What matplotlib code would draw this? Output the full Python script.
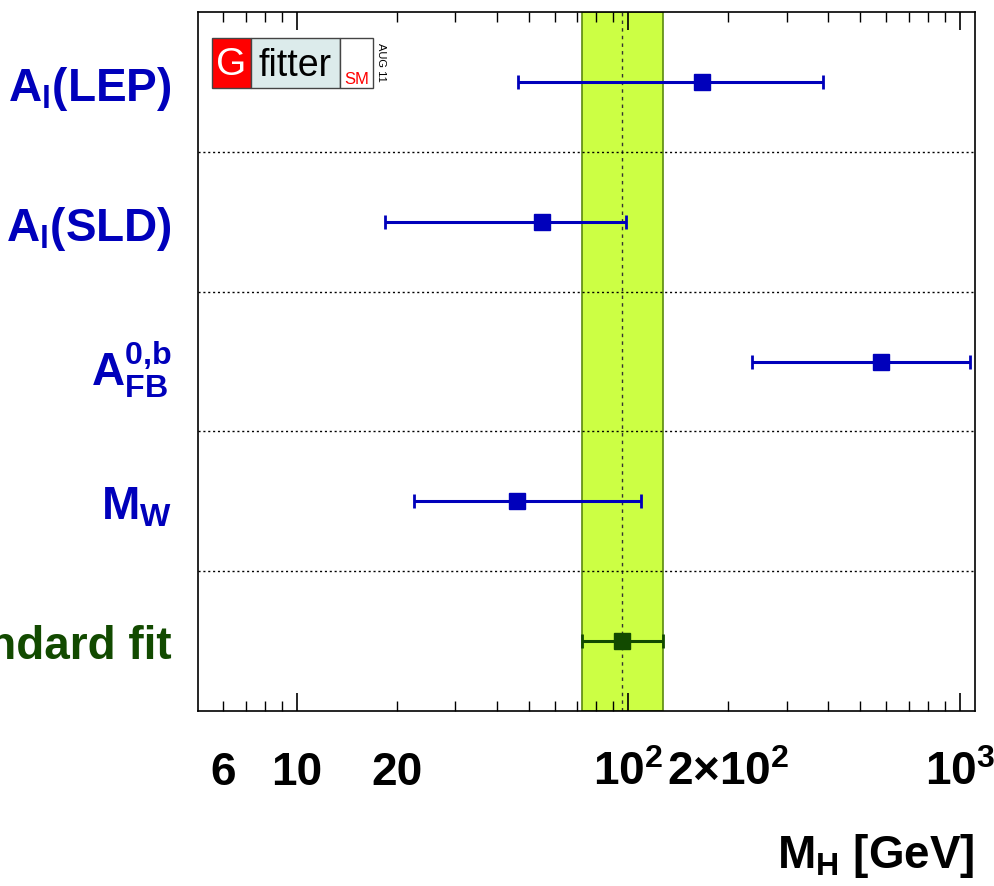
import numpy as np
import matplotlib
matplotlib.use("Agg")
import matplotlib.pyplot as plt
from matplotlib.ticker import FixedLocator, FixedFormatter

plt.rcParams['font.family'] = ['Liberation Sans', 'DejaVu Sans']
plt.rcParams['mathtext.fontset'] = 'custom'
plt.rcParams['mathtext.rm'] = 'Liberation Sans:bold'
plt.rcParams['mathtext.bf'] = 'Liberation Sans:bold'
plt.rcParams['mathtext.it'] = 'Liberation Sans:bold'
plt.rcParams['mathtext.default'] = 'rm'

# observables, top to bottom
labels = [r'$A_l$(LEP)', r'$A_l$(SLD)', r'$A^{0{,}b}_{FB}$', r'$M_W$', 'Standard fit']
mh_central = [167, 55, 577, 46, 95.5]
mh_low = [46.4, 18.4, 236, 22.6, 72.6]
mh_high = [387, 98.6, 1072, 109, 126.7]
label_colors = ['#0000bb', '#0000bb', '#0000bb', '#0000bb', '#124a00']
marker_colors = ['#0000bb', '#0000bb', '#0000bb', '#0000bb', '#124a00']

# band of the standard fit
band_low = 72.6
band_high = 126.7
band_center = 95.5

major_ticks = [10, 100, 1000]
tick_text = {6: '6', 10: '10', 20: '20', 100: r'$10^{2}$', 200: r'2$\times$$10^{2}$', 1000: r'$10^{3}$'}

fig = plt.figure(figsize=(9.94, 8.87), dpi=100)
ax = fig.add_axes([198/994, 1-712/887, 777/994, 699/887])
ax.set_xscale('log')
ax.set_xlim(5.03, 1110)
ax.set_ylim(0, 5)

ax.axvspan(band_low, band_high, facecolor='#ccff44', edgecolor='#5a8a10', lw=1.2, zorder=1)
ax.axvline(band_center, color='#333333', lw=1.0, ls=(0, (2.5, 3)), zorder=2)

n = len(labels)
ypos = [n - 0.5 - i for i in range(n)]
for i in range(n):
    xerr = [[mh_central[i] - mh_low[i]], [mh_high[i] - mh_central[i]]]
    ax.errorbar([mh_central[i]], [ypos[i]], xerr=xerr, fmt='s', color=marker_colors[i],
                ms=11, lw=2.2, capsize=5, capthick=2.0, zorder=4)

for k in range(1, n):
    ax.axhline(k, color='black', lw=1.0, ls=(0, (1.5, 2)), zorder=2)

# ticks
minor = [m * d for d in [1, 10, 100] for m in range(2, 10) if 5 <= m * d <= 1110]
ax.xaxis.set_major_locator(FixedLocator(major_ticks))
ax.xaxis.set_minor_locator(FixedLocator(minor))
ax.xaxis.set_major_formatter(FixedFormatter([tick_text[t] for t in major_ticks]))
ax.xaxis.set_minor_formatter(FixedFormatter([tick_text.get(t, '') for t in minor]))
ax.tick_params(axis='x', which='both', direction='in', top=True, labelsize=33, pad=28)
ax.tick_params(axis='x', which='major', length=13, width=1.2)
ax.tick_params(axis='x', which='minor', length=7, width=1.0)
for lab in ax.get_xticklabels(which='both'):
    lab.set_fontweight('bold')

ax.set_yticks(ypos)
ax.set_yticklabels(labels, fontsize=33, fontweight='bold')
for lab, c in zip(ax.get_yticklabels(), label_colors):
    lab.set_color(c)
ax.tick_params(axis='y', length=0, pad=19)

for sp in ax.spines.values():
    sp.set_linewidth(1.2)

fig.text(975/994, 1-868/887, r'$M_H$ [GeV]', ha='right', va='baseline', fontsize=33, fontweight='bold')

# Gfitter logo
W, H = 777.0, 699.0
def afx(px):
    return (px - 198) / W
def afy(py):
    return 1 - (py - 13) / H
ax.add_patch(plt.Rectangle((afx(212), afy(89)), afx(251) - afx(212), afy(39) - afy(89),
                           transform=ax.transAxes, facecolor='#ff0000', edgecolor='#444444', lw=1, zorder=5))
ax.add_patch(plt.Rectangle((afx(251), afy(89)), afx(340) - afx(251), afy(39) - afy(89),
                           transform=ax.transAxes, facecolor='#dcebeb', edgecolor='#444444', lw=1, zorder=5))
ax.add_patch(plt.Rectangle((afx(340), afy(89)), afx(373) - afx(340), afy(39) - afy(89),
                           transform=ax.transAxes, facecolor='white', edgecolor='#444444', lw=1, zorder=5))
ax.text(afx(231.5), afy(65), 'G', transform=ax.transAxes, color='white', fontsize=28,
        ha='center', va='center', zorder=6)
ax.text(afx(295), afy(66), 'fitter', transform=ax.transAxes, color='black', fontsize=27,
        ha='center', va='center', zorder=6)
ax.text(afx(357), afy(84), 'SM', transform=ax.transAxes, color='#ff0000', fontsize=12,
        ha='center', va='baseline', zorder=6)
ax.text(afx(381), afy(62), 'AUG 11', transform=ax.transAxes, color='black', fontsize=8,
        ha='center', va='center', rotation=-90, zorder=6)

fig.savefig('out.png', dpi=100)
